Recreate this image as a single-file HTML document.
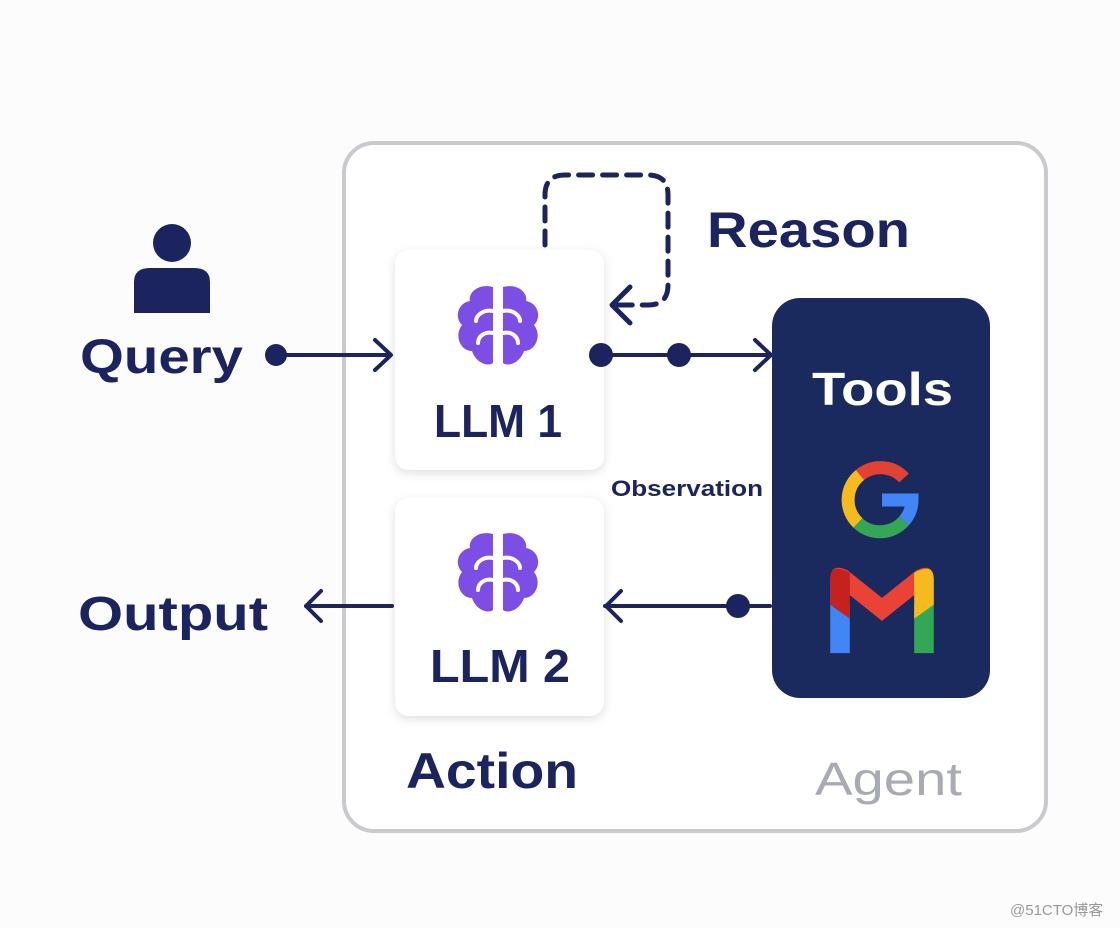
<!DOCTYPE html>
<html><head><meta charset="utf-8"><style>
html,body{margin:0;padding:0;background:#fff;}
svg{display:block;}
text{font-family:"Liberation Sans","Noto Sans CJK SC",sans-serif;}
</style></head><body>
<svg width="1120" height="928" viewBox="0 0 1120 928" xmlns="http://www.w3.org/2000/svg">
<defs>
<filter id="sh" x="-20%" y="-20%" width="140%" height="140%"><feDropShadow dx="0" dy="3" stdDeviation="5" flood-color="#000" flood-opacity="0.13"/></filter>
<g id="brain">
<path d="M-5,-38 C-20,-42 -30,-32 -28,-24 C-40,-22 -44,-8 -36,0 C-44,10 -38,26 -26,26 C-22,38 -10,42 -5,38 Z" fill="#7c4ee4"/>
<path d="M5,-38 C20,-42 30,-32 28,-24 C40,-22 44,-8 36,0 C44,10 38,26 26,26 C22,38 10,42 5,38 Z" fill="#7c4ee4"/>
<path d="M-5,-14 C-14,-16 -22,-10 -22,-4 M-5,8 C-14,6 -20,12 -20,18 M5,-14 C14,-16 22,-10 22,-4 M5,8 C14,6 20,12 20,18" stroke="#fff" stroke-width="4" fill="none" stroke-linecap="round"/>
</g>
</defs>
<rect width="1120" height="928" fill="#fcfcfd"/>
<rect x="344" y="143" width="702" height="688" rx="30" fill="#fff" stroke="#c9cace" stroke-width="4"/>
<circle cx="172" cy="243" r="19" fill="#1c2460"/>
<path d="M134,313 V282 Q134,268 150,268 H194 Q210,268 210,282 V313 Z" fill="#1c2460"/>
<text x="80" y="373" font-size="48" font-weight="bold" fill="#1c2460" textLength="163" lengthAdjust="spacingAndGlyphs">Query</text>
<text x="78" y="630" font-size="48" font-weight="bold" fill="#1c2460" textLength="190" lengthAdjust="spacingAndGlyphs">Output</text>
<rect x="395" y="250" width="209" height="220" rx="14" fill="#fff" filter="url(#sh)"/>
<rect x="395" y="498" width="209" height="218" rx="14" fill="#fff" filter="url(#sh)"/>
<g stroke="#1c2460" stroke-width="4" fill="none" stroke-linecap="round" stroke-linejoin="round">
<line x1="276" y1="355" x2="390" y2="355"/>
<polyline points="375,340 391,355 375,370"/>
<line x1="601" y1="355" x2="770" y2="355"/>
<polyline points="755,340 771,355 755,370"/>
<line x1="605" y1="606" x2="770" y2="606"/>
<polyline points="621,591 606,606 621,621"/>
<line x1="306" y1="606" x2="392" y2="606"/>
<polyline points="321,591 306,606 321,621"/>
<path d="M545,245 V195 Q545,175 565,175 H648 Q668,175 668,195 V285 Q668,305 648,305 H616" stroke-dasharray="14,10" stroke-width="5"/>
<polyline points="630,287 612,305 630,323" stroke-width="5"/>
</g>
<circle cx="276" cy="355" r="11" fill="#1c2460"/>
<circle cx="601" cy="355" r="12" fill="#1c2460"/>
<circle cx="679" cy="355" r="12" fill="#1c2460"/>
<circle cx="738" cy="606" r="12" fill="#1c2460"/>
<use href="#brain" x="498" y="325"/>
<use href="#brain" x="498" y="572"/>
<text x="434" y="437" font-size="46" font-weight="bold" fill="#1c2460" textLength="128" lengthAdjust="spacingAndGlyphs">LLM 1</text>
<text x="430" y="682" font-size="46" font-weight="bold" fill="#1c2460" textLength="140" lengthAdjust="spacingAndGlyphs">LLM 2</text>
<text x="707" y="247" font-size="50" font-weight="bold" fill="#1c2460" textLength="203" lengthAdjust="spacingAndGlyphs">Reason</text>
<text x="611" y="496" font-size="22" font-weight="bold" fill="#1c2460" textLength="152" lengthAdjust="spacingAndGlyphs">Observation</text>
<text x="406" y="788" font-size="50" font-weight="bold" fill="#1c2460" textLength="172" lengthAdjust="spacingAndGlyphs">Action</text>
<text x="815" y="795" font-size="46" fill="#a9abb4" textLength="147" lengthAdjust="spacingAndGlyphs">Agent</text>
<rect x="772" y="298" width="218" height="400" rx="28" fill="#1b2a5e"/>
<text x="812" y="405" font-size="46" font-weight="bold" fill="#fff" textLength="141" lengthAdjust="spacingAndGlyphs">Tools</text>
<g transform="translate(880,500)" fill="none" stroke-width="13">
<path d="M24,-22 A32,32 0 0 0 -20,-25" stroke="#e34133"/>
<path d="M-20,-25 A32,32 0 0 0 -22,23" stroke="#f5bb1e"/>
<path d="M-22,23 A32,32 0 0 0 24,21" stroke="#33a753"/>
<path d="M24,21 A32,32 0 0 0 32,0 H2" stroke="#4285f4"/>
</g>
<g transform="translate(882,614) scale(1.15)">
<path d="M-45,-30 V34 H-28 V-8 Z" fill="#4285f4"/>
<path d="M45,-30 V34 H28 V-8 Z" fill="#33a753"/>
<path d="M-45,-30 Q-45,-45 -30,-38 L0,-14 L30,-38 Q45,-45 45,-30 L0,6 Z" fill="#ea4335"/>
<path d="M28,-36 Q45,-45 45,-30 V-8 L28,4 Z" fill="#f5bb1e"/>
<path d="M-28,-36 Q-45,-45 -45,-30 V-8 L-28,4 Z" fill="#c5221f"/>
</g>
<text x="1010" y="915" font-size="15" fill="#999">@51CTO博客</text>
</svg>
</body></html>
